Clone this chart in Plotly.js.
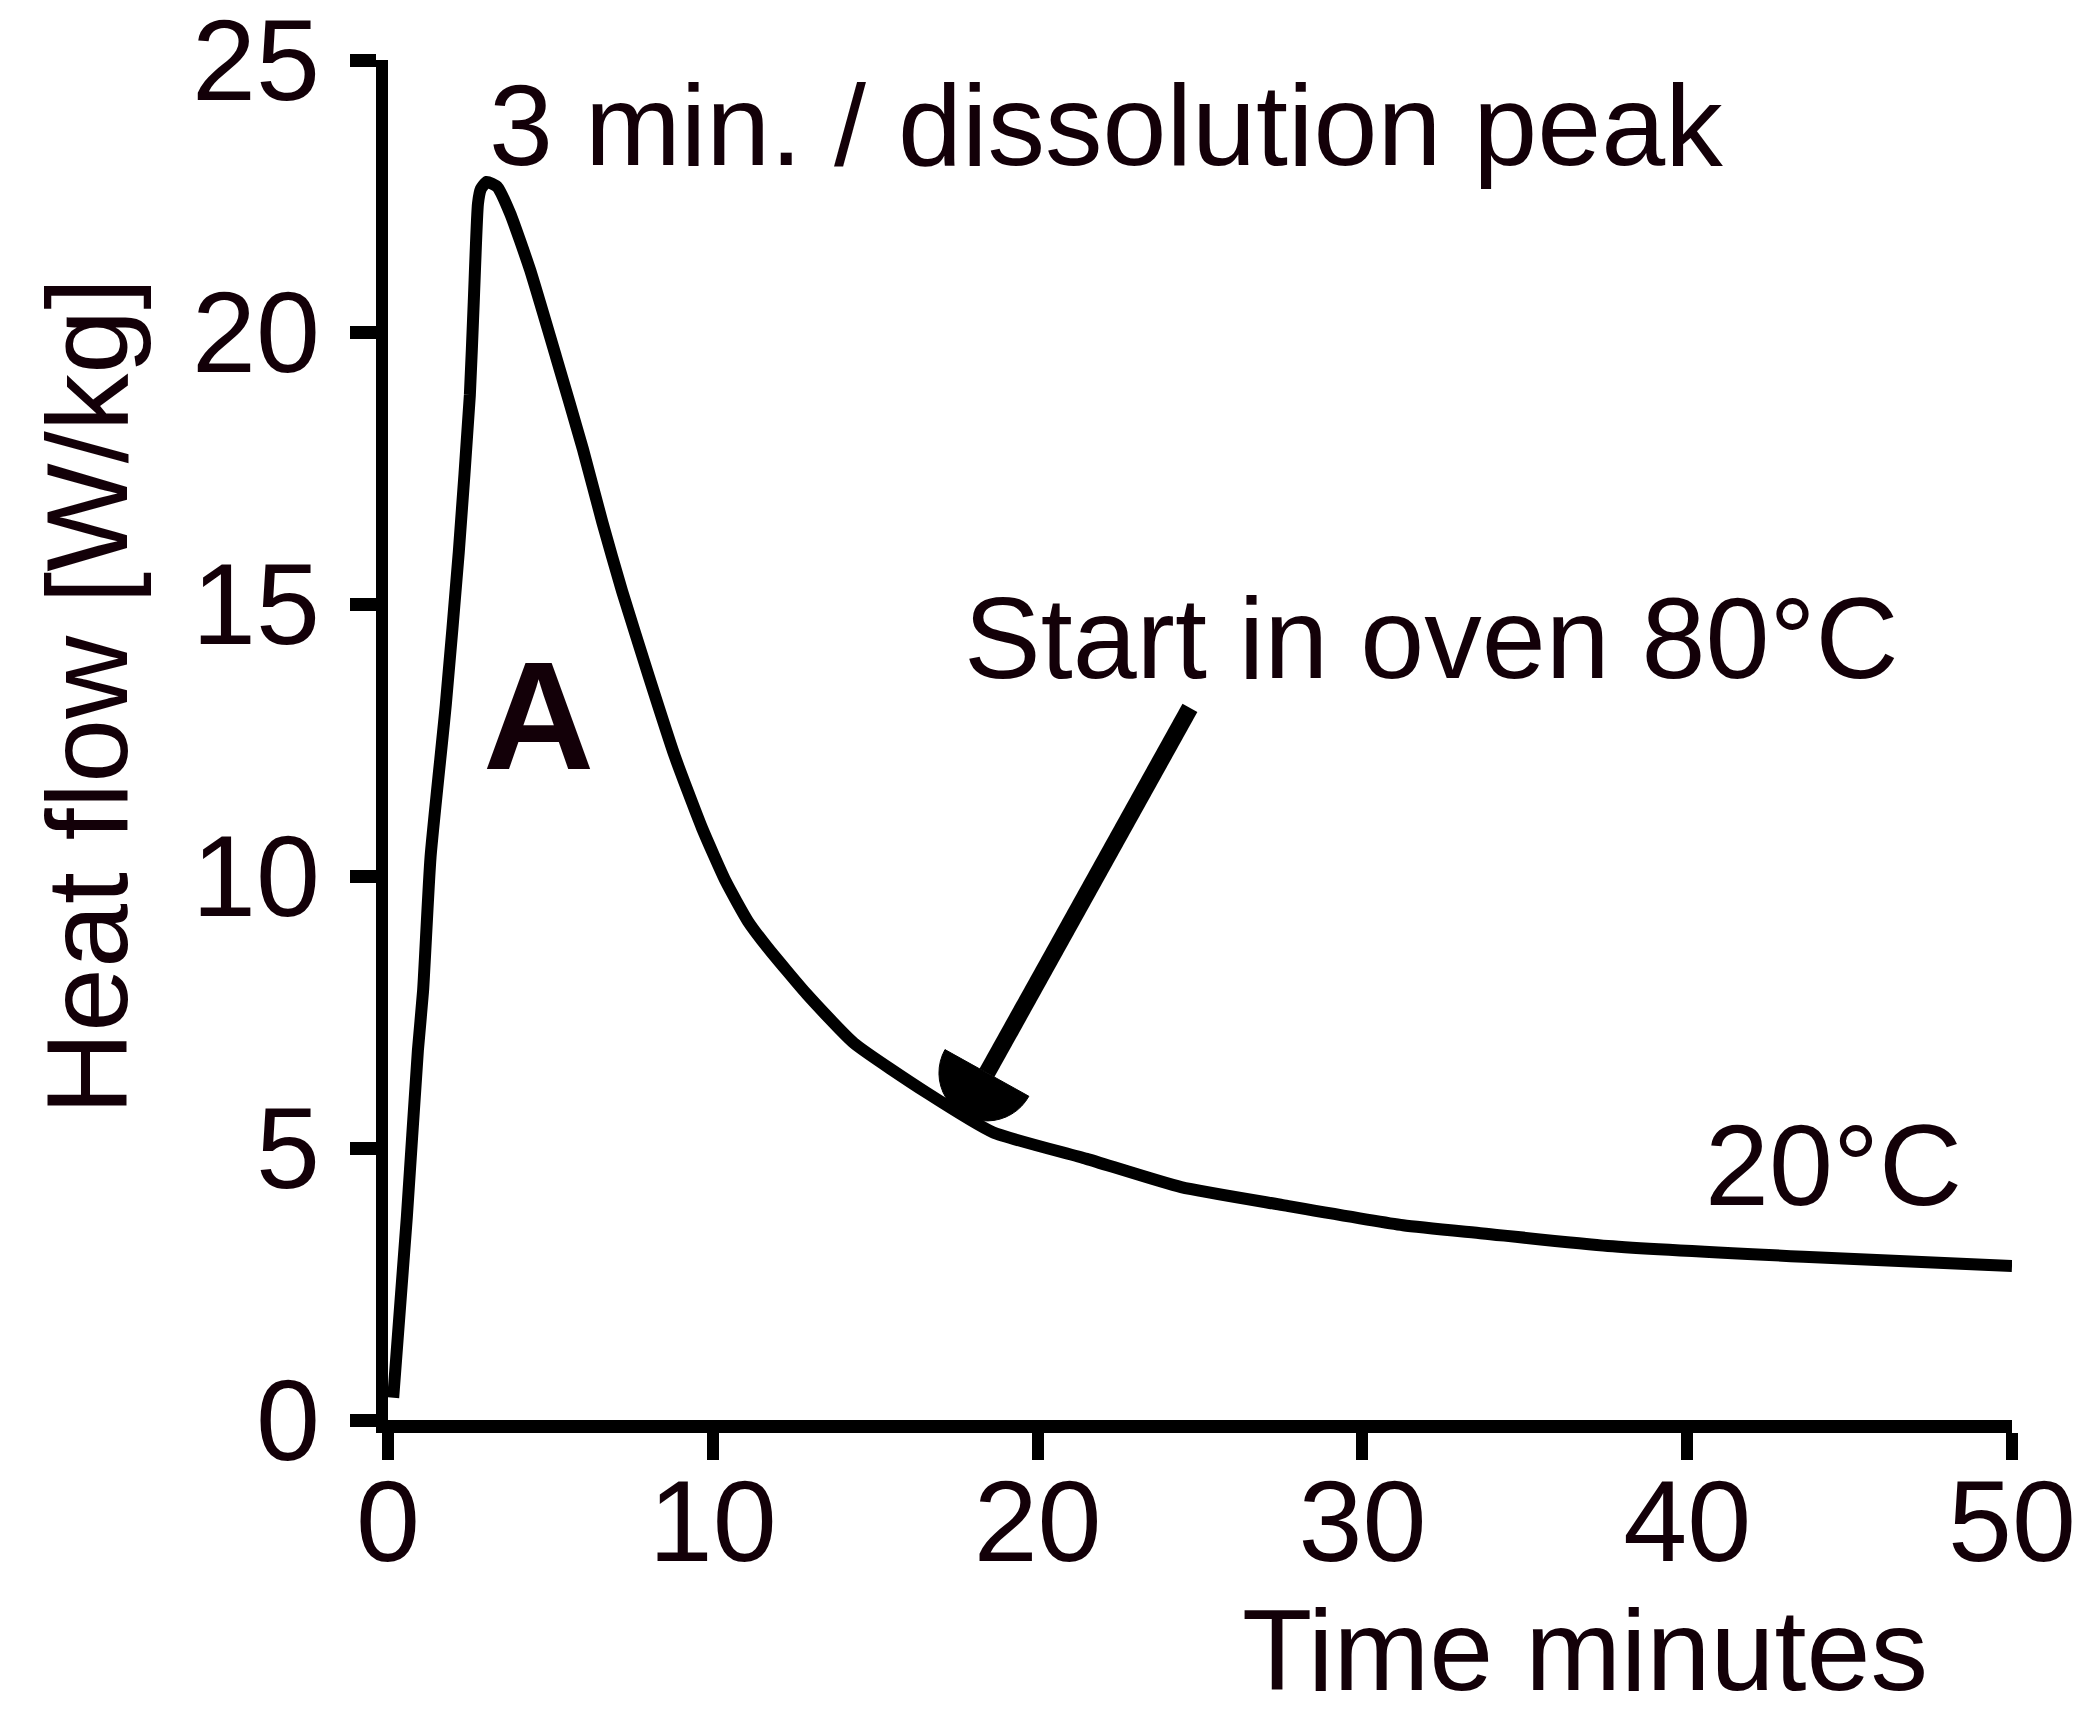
<!DOCTYPE html>
<html><head><meta charset="utf-8">
<script src="https://cdn.plot.ly/plotly-3.0.1.min.js"></script>
<style>html,body{margin:0;padding:0;background:#fff;} #chart{width:2076px;height:1713px;}</style>
</head><body><div id="chart"></div>
<script>
// ---- data ----
const timeMin  = [0.16, 0.58, 0.92, 1.08, 1.31, 1.78, 2.18, 2.52, 2.64, 2.77, 2.86, 3.04, 3.36, 3.76, 4.37, 5.17, 6.00, 6.60, 7.21, 8.03, 8.83, 9.67, 10.40, 11.08, 11.68, 12.89, 14.34, 16.60, 18.62, 21.51, 24.42, 27.55, 31.25, 33.71, 37.56, 43.58, 50.00];
const heatFlow = [0.41, 3.73, 6.79, 7.89, 10.35, 13.15, 15.96, 18.84, 20.55, 22.36, 22.63, 22.76, 22.67, 22.18, 21.15, 19.55, 17.85, 16.50, 15.23, 13.67, 12.20, 10.88, 9.90, 9.17, 8.69, 7.83, 6.93, 6.01, 5.29, 4.80, 4.28, 3.95, 3.58, 3.43, 3.20, 3.00, 2.83];
const xTickVals = [0, 10, 20, 30, 40, 50];
const yTickVals = [0, 5, 10, 15, 20, 25];
const xTitle = 'Time minutes';
const yTitle = 'Heat flow [W/kg]';
const peakLabel = '3 min. / dissolution peak';
const ovenLabel = 'Start in oven 80°C';
const roomLabel = '20°C';
const panelLabel = 'A';
const arrowTail = [24.69, 13.09];   // data coords (min, W/kg)
const arrowHead = [18.44, 6.38];

// ---- layout geometry ----
const W = 2076, H = 1713;
const L = 388, R = 2012, T = 60, B = 1420;
const xRange = [0, 50], yRange = [0, 25];
const kx = (R - L) / (xRange[1] - xRange[0]);
const ky = (B - T) / (yRange[1] - yRange[0]);
const px2x = px => xRange[0] + (px - L) / kx;
const py2y = py => yRange[0] + (B - py) / ky;
const x2px = x => L + (x - xRange[0]) * kx;
const y2py = y => B - (y - yRange[0]) * ky;
const pX = px => (px - L) / (R - L);
const pY = py => (B - py) / (B - T);

const FONT = 'Liberation Sans, Arial, Helvetica, sans-serif';
const TXT = '#130008';
const FS = 115;

// semicircular arrow head
const hx = x2px(arrowHead[0]), hy = y2py(arrowHead[1]);
const tx = x2px(arrowTail[0]), ty = y2py(arrowTail[1]);
let dx = hx - tx, dy = hy - ty; const dl = Math.hypot(dx, dy); dx /= dl; dy /= dl;
const ex = -dy, ey = dx;
const rad = 48;
let headPath = '';
for (let i = 0; i <= 24; i++) {
  const th = Math.PI * i / 24;
  const qx = hx + rad * (Math.cos(th) * ex + Math.sin(th) * dx);
  const qy = hy + rad * (Math.cos(th) * ey + Math.sin(th) * dy);
  headPath += (i === 0 ? 'M' : 'L') + px2x(qx).toFixed(4) + ',' + py2y(qy).toFixed(4);
}
headPath += 'Z';

const trace = {
  x: timeMin, y: heatFlow, type: 'scatter', mode: 'lines',
  line: {color: '#000', width: 12, shape: 'spline', smoothing: 0.5},
  cliponaxis: false, hoverinfo: 'skip', showlegend: false
};

const tickfont = {family: FONT, size: FS, color: TXT};
const layout = {
  width: W, height: H,
  margin: {l: L, r: W - R, t: T, b: H - B, pad: 0},
  paper_bgcolor: '#fff', plot_bgcolor: '#fff',
  showlegend: false,
  xaxis: {
    range: xRange, tickvals: xTickVals, ticktext: xTickVals.map(String),
    showline: true, linewidth: 13, linecolor: '#000',
    ticks: 'outside', ticklen: 27, tickwidth: 12, tickcolor: '#000',
    ticklabelstandoff: -37, ticklabeloverflow: 'allow',
    showgrid: false, zeroline: false, tickfont: tickfont
  },
  yaxis: {
    range: yRange, tickvals: yTickVals, ticktext: yTickVals.map(String),
    showline: true, linewidth: 12, linecolor: '#000',
    ticks: 'outside', ticklen: 26, tickwidth: 13, tickcolor: '#000',
    ticklabelstandoff: 7, ticklabeloverflow: 'allow',
    showgrid: false, zeroline: false, tickfont: tickfont
  },
  shapes: [
    {type: 'line', xref: 'x', yref: 'y', x0: arrowTail[0], y0: arrowTail[1], x1: arrowHead[0], y1: arrowHead[1],
     line: {color: '#000', width: 17}},
    {type: 'path', xref: 'x', yref: 'y', path: headPath, fillcolor: '#000', line: {color: '#000', width: 1}}
  ],
  annotations: [
    {text: peakLabel, xref: 'paper', yref: 'paper', x: pX(487), y: pY(125), xanchor: 'left', yanchor: 'middle',
     showarrow: false, font: {family: FONT, size: FS, color: TXT}},
    {text: ovenLabel, xref: 'paper', yref: 'paper', x: pX(962), y: pY(638), xanchor: 'left', yanchor: 'middle',
     showarrow: false, font: {family: FONT, size: FS, color: TXT}},
    {text: roomLabel, xref: 'paper', yref: 'paper', x: pX(1703), y: pY(1165), xanchor: 'left', yanchor: 'middle',
     showarrow: false, font: {family: FONT, size: FS, color: TXT}},
    {text: '<b>' + panelLabel + '</b>', xref: 'paper', yref: 'paper', x: pX(481), y: pY(716), xanchor: 'left', yanchor: 'middle',
     showarrow: false, font: {family: FONT, size: 154, color: TXT}},
    {text: xTitle, xref: 'paper', yref: 'paper', x: pX(1240), y: pY(1650), xanchor: 'left', yanchor: 'middle',
     showarrow: false, font: {family: FONT, size: FS, color: TXT}},
    {text: yTitle, xref: 'paper', yref: 'paper', x: pX(87), y: pY(697), xanchor: 'center', yanchor: 'middle',
     textangle: -90, showarrow: false, font: {family: FONT, size: FS, color: TXT}}
  ]
};

Plotly.newPlot('chart', [trace], layout, {displayModeBar: false, staticPlot: true});
</script>
</body></html>
